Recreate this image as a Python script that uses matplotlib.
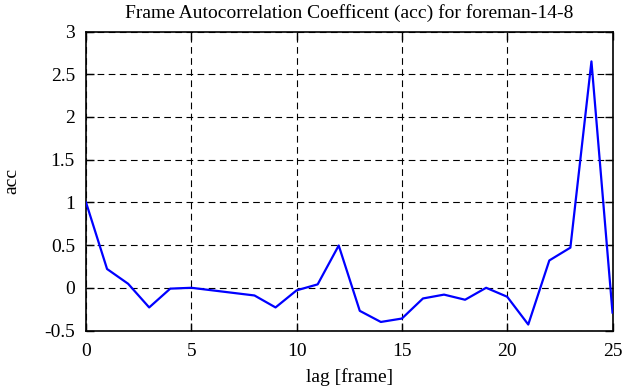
import matplotlib
matplotlib.use("Agg")
import matplotlib.pyplot as plt

lags = list(range(26))
acc = [1.0, 0.22, 0.047, -0.23, -0.01, 0.0, -0.03, -0.06, -0.09, -0.23,
       -0.03, 0.04, 0.495, -0.27, -0.40, -0.36, -0.125, -0.08, -0.14, 0.0,
       -0.105, -0.43, 0.32, 0.47, 2.65, -0.29]
xticks = [0, 5, 10, 15, 20, 25]
yticks = [-0.5, 0, 0.5, 1, 1.5, 2, 2.5, 3]
ytick_labels = ["-0.5", "0", "0.5", "1", "1.5", "2", "2.5", "3"]

plt.rcParams['font.family'] = ['Liberation Serif', 'DejaVu Serif']
fig = plt.figure(figsize=(6.35, 3.87), dpi=100)
ax = fig.add_axes([86/635, (387-330.5)/387, (612.5-86)/635, (330.5-31.5)/387])
ax.plot(lags, acc, color='#0000ff', lw=1.6, zorder=3)
ax.set_xlim(0, 25)
ax.set_ylim(-0.5, 3)
ax.set_xticks(xticks)
ax.set_yticks(yticks)
ax.set_yticklabels(ytick_labels)
ax.grid(True, color='black', linestyle=(0, (6, 4)), linewidth=0.8)
ax.tick_params(direction='in', length=6, width=1, top=True, right=True,
               labelsize=14)
ax.tick_params(axis='x', pad=9)
ax.tick_params(axis='y', pad=8)
for s in ax.spines.values():
    s.set_linewidth(1.2)
ax.set_xlabel('lag [frame]', fontsize=14, labelpad=6)
ax.set_ylabel('acc', fontsize=14, labelpad=17)
ax.set_title('Frame Autocorrelation Coefficent (acc) for foreman-14-8', fontsize=14, pad=10)
fig.savefig('out.png', dpi=100)
